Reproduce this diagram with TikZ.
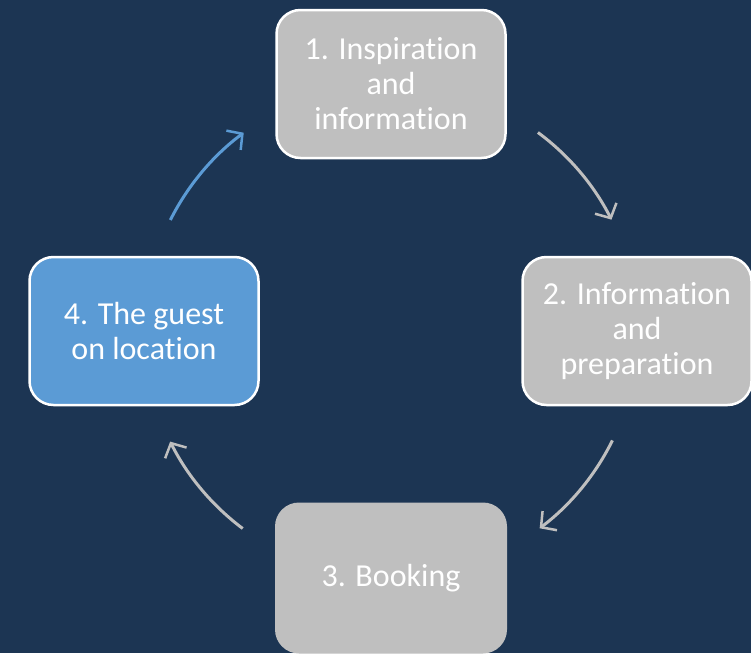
\documentclass[tikz,border=0pt]{standalone}
\usepackage{fontspec}
\setmainfont[Ligatures=NoCommon]{Carlito}
\usetikzlibrary{arrows.meta,calc}
\definecolor{bgnavy}{HTML}{1C3553}
\definecolor{boxgray}{HTML}{BFBFBF}
\definecolor{boxblue}{HTML}{5B9BD5}
\begin{document}
\begin{tikzpicture}[x=1pt,y=-1pt,
  stagebox/.style={rounded corners=24pt, fill=boxgray, draw=white, line width=2.5pt,
    minimum width=229pt, minimum height=148pt, text=white, align=center,
    font=\fontsize{32}{35}\selectfont, inner sep=0pt},
  cycarrow/.style={line width=3pt, draw=boxgray, -{Straight Barb[length=11pt,width=24pt,line width=2.5pt]}},
]
\useasboundingbox (0,0) rectangle (751,653);
\fill[bgnavy] (0,0) rectangle (751,653);
\node[stagebox] (s1) at (391,84) {1. Inspiration\\and\\information};
\node[stagebox] (s2) at (637,331) {2. Information\\and\\preparation};
\node[stagebox, draw=none, minimum width=232pt, minimum height=151pt] (s3) at (391,578) {3. Booking};
\node[stagebox, fill=boxblue] (s4) at (144,331) {4. The guest\\on location};
\coordinate (c) at (391,331);
\coordinate (a1) at ($(c)+(-53.5:247)$);
\coordinate (a2) at ($(c)+(26.3:247)$);
\coordinate (a3) at ($(c)+(126.9:247)$);
\coordinate (a4) at ($(c)+(-153.3:247)$);
\draw[cycarrow] (a1) arc[start angle=-53.5, end angle=-26.8, radius=247];
\draw[cycarrow] (a2) arc[start angle=26.3, end angle=53.0, radius=247];
\draw[cycarrow] (a3) arc[start angle=126.9, end angle=153.4, radius=247];
\draw[cycarrow, draw=boxblue] (a4) arc[start angle=-153.3, end angle=-126.6, radius=247];
\end{tikzpicture}
\end{document}
